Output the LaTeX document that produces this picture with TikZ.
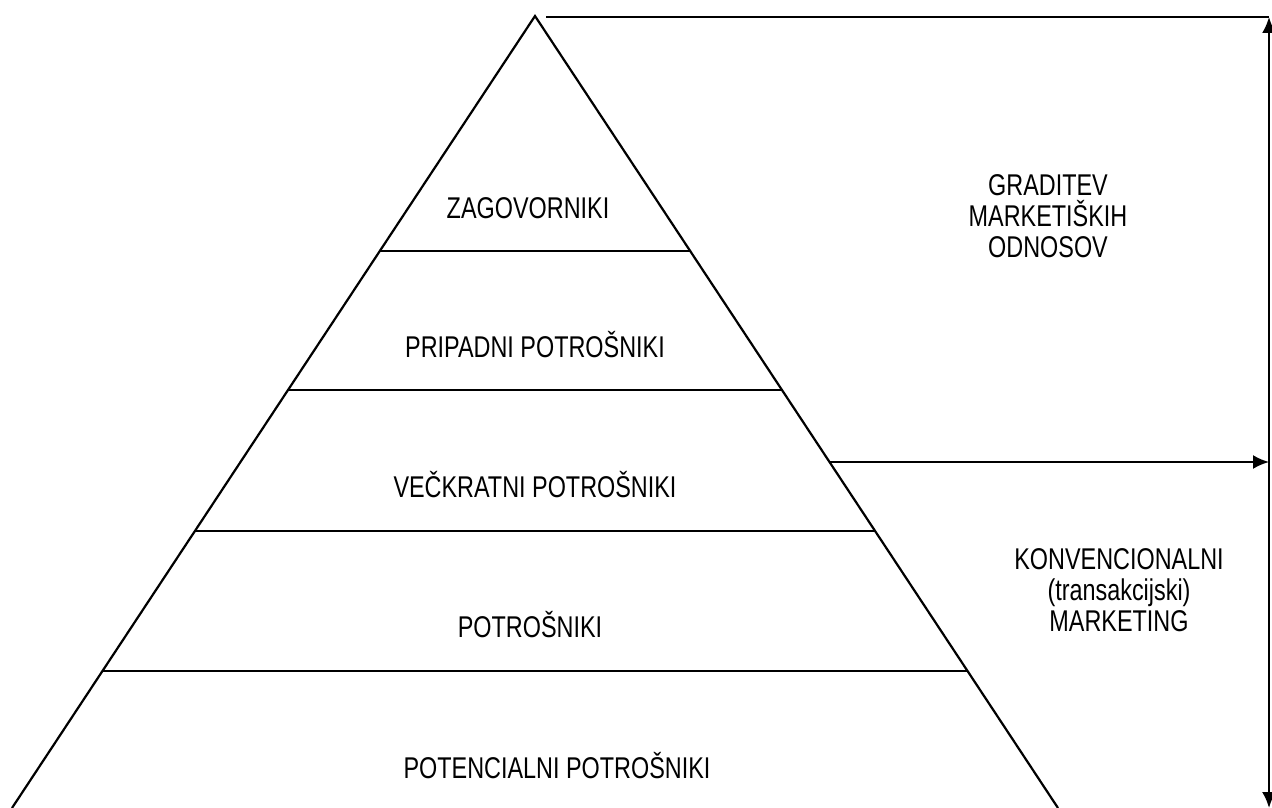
\documentclass[tikz,border=0pt]{standalone}
\usepackage{fontspec}
\setmainfont[FakeStretch=0.78]{Liberation Sans}
\usepackage{tikz}
\usetikzlibrary{arrows.meta}
\tikzstyle{tier}=[inner sep=0pt, anchor=base, font=\fontsize{30}{31}\selectfont]
\tikzstyle{side}=[inner sep=0pt, align=center, font=\fontsize{30}{31}\selectfont]
\tikzstyle{edge}=[line width=2.2pt]
\tikzstyle{arr}=[line width=2.2pt, -{Latex[length=16pt,width=14pt]}]
\newcommand{\tier}{\node[tier]}

\begin{document}
\begin{tikzpicture}[x=1pt,y=-1pt]
	\useasboundingbox (0,0) rectangle (1272,808);
	%% corners of the pyramid and the frame on the right
	\coordinate (apex) at (535,16);
	\coordinate (bl) at (12,808);
	\coordinate (br) at (1058,808);
	\coordinate (tl) at (546,17);
	\coordinate (tr) at (1269,17);
	\coordinate (brr) at (1269,808);
	\coordinate (ml) at (829.5,462);
	\coordinate (mr) at (1269,462);
	%% the sides of the pyramid
	\draw[edge] (bl) -- (apex) -- (br);
	%% the lines between the tiers
	\foreach \y/\xl/\xr in {251/379.8/690.2, 390/288.0/782.0, 531/194.9/875.1, 671/102.4/967.6}
		\draw[edge] (\xl,\y) -- (\xr,\y);
	%% tiers, from the top down
	\tier (zag) at (528,218) {ZAGOVORNIKI};
	\tier (prip) at (535,357) {PRIPADNI POTROŠNIKI};
	\tier (veck) at (535,497) {VEČKRATNI POTROŠNIKI};
	\tier (potr) at (530,637) {POTROŠNIKI};
	\tier (pot) at (557,778) {POTENCIALNI POTROŠNIKI};
	%% the two kinds of marketing
	\node[side] (odn) at (1048,216) {GRADITEV\\MARKETIŠKIH\\ODNOSOV};
	\node[side] (konv) at (1119,590) {KONVENCIONALNI\\(transakcijski)\\MARKETING};
	\path
		(tl) edge[edge] (tr)
		(ml) edge[arr] (mr)
	;
	\draw[edge, {Latex[length=16pt,width=14pt]}-{Latex[length=16pt,width=14pt]}] (tr) -- (brr);
\end{tikzpicture}
\end{document}
